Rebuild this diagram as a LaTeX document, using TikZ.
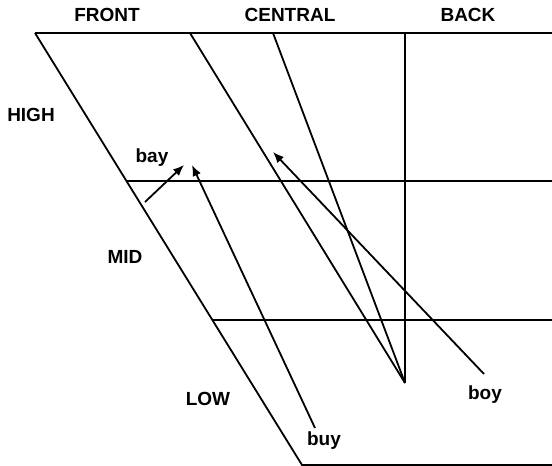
\documentclass[tikz,border=0pt]{standalone}
\usepackage{fontspec}
\setmainfont{Liberation Sans}
\usetikzlibrary{arrows.meta}
\begin{document}
\begin{tikzpicture}[x=1pt,y=-1pt,
  ln/.style={line width=1.8pt},
  arr/.style={line width=1.8pt,-{Latex[length=11pt,width=9pt]}},
  lab/.style={font=\bfseries\fontsize{19}{22}\selectfont,inner sep=0pt,anchor=center}]
\useasboundingbox (0,0) rectangle (552,466);
% frame coordinates
\coordinate (tl) at (35,33);
\coordinate (tr) at (552,33);
\coordinate (bl) at (302,465);
\coordinate (br) at (552,465);
\coordinate (c1) at (190,33);
\coordinate (c2) at (273,33);
\coordinate (vt) at (405,33);
\coordinate (apex) at (405,383);
\coordinate (h1l) at (126,181);
\coordinate (h1r) at (552,181);
\coordinate (h2l) at (212,320);
\coordinate (h2r) at (552,320);
% arrow ends
\coordinate (bayS) at (145,202);
\coordinate (bayE) at (184,165);
\coordinate (buyS) at (315,428);
\coordinate (buyE) at (192,165);
\coordinate (boyS) at (484,374);
\coordinate (boyE) at (273,152);
% frame
\draw[ln] (tl) -- (tr);
\draw[ln] (tl) -- (bl) -- (br);
\draw[ln] (c1) -- (apex);
\draw[ln] (c2) -- (apex);
\draw[ln] (vt) -- (apex);
\draw[ln] (h1l) -- (h1r);
\draw[ln] (h2l) -- (h2r);
% arrows
\draw[arr] (bayS) -- (bayE);
\draw[arr] (buyS) -- (buyE);
\draw[arr] (boyS) -- (boyE);
% labels
\node[lab] (front) at (107,15) {FRONT};
\node[lab] (central) at (290,15) {CENTRAL};
\node[lab] (back) at (468,15) {BACK};
\node[lab] (high) at (31,115) {HIGH};
\node[lab] (mid) at (125,257) {MID};
\node[lab] (low) at (208,399) {LOW};
\node[lab] (bay) at (152,158) {bay};
\node[lab] (buy) at (324,441) {buy};
\node[lab] (boy) at (485,395) {boy};
\end{tikzpicture}
\end{document}
